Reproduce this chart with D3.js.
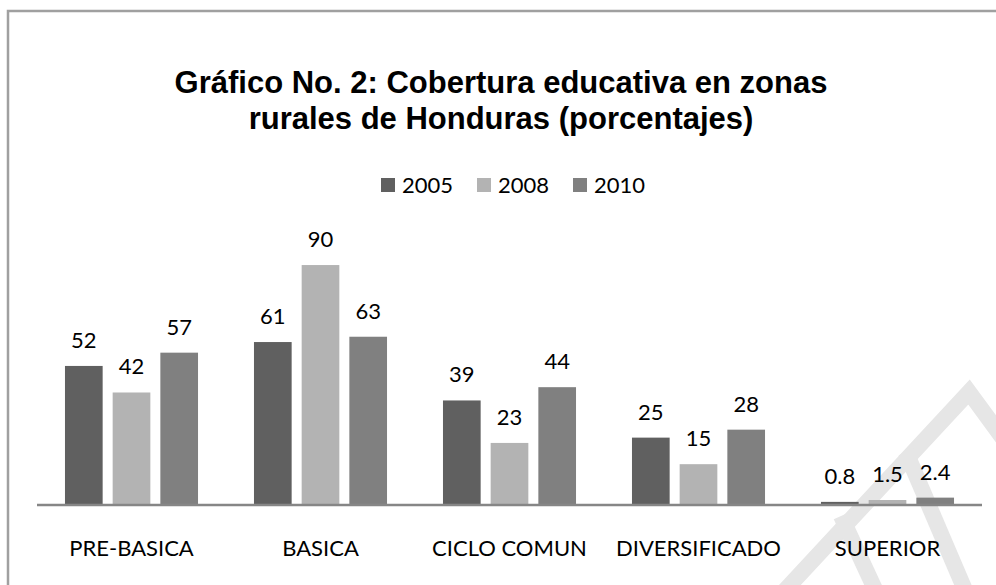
<!DOCTYPE html>
<html>
<head>
<meta charset="utf-8">
<script src="https://d3js.org/d3.v7.min.js"></script>
<style>
  body { margin: 0; background: #fff; }
  svg { display: block; }
</style>
</head>
<body>
<script>
    // data
    var categories = ["PRE-BASICA", "BASICA", "CICLO COMUN", "DIVERSIFICADO", "SUPERIOR"];
    var years = ["2005", "2008", "2010"];
    var v2005 = [52, 61, 39, 25, 0.8];
    var v2008 = [42, 90, 23, 15, 1.5];
    var v2010 = [57, 63, 44, 28, 2.4];
    var yDomain = [0, 100];

    var seriesValues = [v2005, v2008, v2010];
    var colors = ["#606060", "#b3b3b3", "#808080"];

    var W = 996, H = 585;
    var svg = d3.select("body").append("svg")
        .attr("width", W)
        .attr("height", H);

    // watermark, behind everything
    var wm = svg.append("g")
        .attr("stroke", "#e6e6e6")
        .attr("stroke-width", 16)
        .attr("fill", "none");
    wm.append("path").attr("d", "M776,600 L969,392 L1010,448");
    wm.append("path").attr("d", "M906,452 L971,604");
    wm.append("path").attr("d", "M841,516 L880,600");

    // frame
    svg.append("rect")
        .attr("x", 8)
        .attr("y", 11)
        .attr("width", 1100)
        .attr("height", 700)
        .attr("fill", "none")
        .attr("stroke", "#a0a0a0")
        .attr("stroke-width", 2.5);

    // title
    var title = svg.append("text")
        .attr("text-anchor", "middle")
        .style("font-family", "'Liberation Sans', Arial, sans-serif")
        .style("font-weight", "bold")
        .style("font-size", "31px")
        .attr("fill", "#000");
    title.append("tspan").attr("x", 501).attr("y", 93).text("Gráfico No. 2: Cobertura educativa en zonas");
    title.append("tspan").attr("x", 501).attr("y", 129).text("rurales de Honduras (porcentajes)");

    // scales
    var baseline = 504;
    var x0 = d3.scaleBand()
        .domain(categories)
        .range([37, 982])
        .paddingInner(0.296)
        .paddingOuter(0.148);
    var x1 = d3.scaleBand()
        .domain(years)
        .range([0, x0.bandwidth()])
        .paddingInner(0.21);
    var y = d3.scaleLinear()
        .domain(yDomain)
        .range([baseline, baseline - 265.5]);

    var labelFont = "Lato, 'Open Sans', sans-serif";

    // legend
    var legendX = [381, 477, 573];
    var legend = svg.append("g");
    years.forEach(function (yr, i) {
        legend.append("rect")
            .attr("x", legendX[i])
            .attr("y", 178)
            .attr("width", 14)
            .attr("height", 14)
            .attr("fill", colors[i]);
        legend.append("text")
            .attr("x", legendX[i] + 21)
            .attr("y", 193)
            .style("font-family", labelFont)
            .style("font-size", "22px")
            .attr("fill", "#000")
            .text(yr);
    });

    // bars
    var rows = [];
    categories.forEach(function (c, ci) {
        years.forEach(function (yr, si) {
            rows.push({ cat: c, year: yr, value: seriesValues[si][ci], color: colors[si] });
        });
    });

    svg.selectAll("rect.bar")
        .data(rows)
        .enter()
        .append("rect")
        .attr("class", "bar")
        .attr("x", function (d) { return x0(d.cat) + x1(d.year); })
        .attr("width", x1.bandwidth())
        .attr("y", function (d) { return y(d.value); })
        .attr("height", function (d) { return baseline - y(d.value); })
        .attr("fill", function (d) { return d.color; });

    // value labels
    svg.selectAll("text.val")
        .data(rows)
        .enter()
        .append("text")
        .attr("class", "val")
        .attr("text-anchor", "middle")
        .attr("x", function (d) { return x0(d.cat) + x1(d.year) + x1.bandwidth() / 2; })
        .attr("y", function (d) { return y(d.value) - 18; })
        .style("font-family", labelFont)
        .style("font-size", "22px")
        .attr("fill", "#000")
        .text(function (d) { return d.value; });

    // baseline axis
    svg.append("line")
        .attr("x1", 37)
        .attr("x2", 982)
        .attr("y1", baseline + 1)
        .attr("y2", baseline + 1)
        .attr("stroke", "#868686")
        .attr("stroke-width", 2.5);

    // category labels
    svg.selectAll("text.cat")
        .data(categories)
        .enter()
        .append("text")
        .attr("class", "cat")
        .attr("text-anchor", "middle")
        .attr("x", function (d) { return x0(d) + x0.bandwidth() / 2; })
        .attr("y", 556)
        .style("font-family", labelFont)
        .style("font-size", "22px")
        .attr("fill", "#000")
        .text(function (d) { return d; });
</script>
</body>
</html>
